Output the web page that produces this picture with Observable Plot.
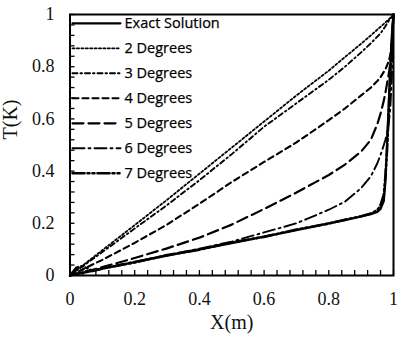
<!DOCTYPE html>
<html>
<head>
<meta charset="utf-8">
<script src="https://cdn.jsdelivr.net/npm/d3@7"></script>
<script src="https://cdn.jsdelivr.net/npm/@observablehq/plot@0.6"></script>
<style>
  html, body { margin: 0; padding: 0; background: #fff; }
</style>
</head>
<body>
<div id="chart"></div>
<script>
// Temperature profiles T(X): exact solution against polynomial approximations
const xs = [0, 0.02, 0.04, 0.07, 0.1, 0.2, 0.3, 0.4, 0.5, 0.6, 0.7, 0.8, 0.85, 0.9, 0.93, 0.95, 0.96, 0.97, 0.975, 0.98, 0.985, 0.99, 0.995, 1];

const tExact = [0, 0.005, 0.01, 0.018, 0.026, 0.051, 0.076, 0.1, 0.124, 0.149, 0.174, 0.2, 0.212, 0.226, 0.235, 0.243, 0.255, 0.285, 0.36, 0.5, 0.65, 0.8, 0.92, 1];
const t2 = [0, 0.02, 0.039, 0.068, 0.097, 0.193, 0.29, 0.39, 0.49, 0.59, 0.69, 0.785, 0.837, 0.888, 0.92, 0.942, 0.953, 0.964, 0.97, 0.975, 0.981, 0.987, 0.993, 1];
const t3 = [0, 0.018, 0.036, 0.063, 0.09, 0.18, 0.27, 0.365, 0.465, 0.57, 0.66, 0.75, 0.8, 0.855, 0.89, 0.915, 0.928, 0.945, 0.955, 0.965, 0.975, 0.983, 0.992, 1];
const t4 = [0, 0.012, 0.024, 0.042, 0.06, 0.125, 0.195, 0.275, 0.358, 0.435, 0.51, 0.595, 0.64, 0.69, 0.72, 0.745, 0.76, 0.78, 0.79, 0.805, 0.82, 0.845, 0.9, 1];
const t5 = [0, 0.006, 0.012, 0.022, 0.032, 0.067, 0.104, 0.145, 0.195, 0.255, 0.318, 0.385, 0.425, 0.475, 0.52, 0.58, 0.62, 0.67, 0.7, 0.735, 0.77, 0.81, 0.88, 1];
const t6 = [0, 0.008, 0.014, 0.02, 0.027, 0.053, 0.078, 0.103, 0.13, 0.165, 0.2, 0.252, 0.283, 0.335, 0.38, 0.43, 0.462, 0.5, 0.52, 0.545, 0.58, 0.64, 0.76, 1];
const t7 = [0, 0.03, 0.036, 0.017, 0.027, 0.05, 0.078, 0.099, 0.127, 0.148, 0.176, 0.199, 0.214, 0.227, 0.238, 0.25, 0.27, 0.31, 0.38, 0.48, 0.62, 0.77, 0.9, 1];

const seriesNames = ["Exact Solution", "2 Degrees", "3 Degrees", "4 Degrees", "5 Degrees", "6 Degrees", "7 Degrees"];
const seriesValues = [tExact, t2, t3, t4, t5, t6, t7];

const xTickValues = [0, 0.2, 0.4, 0.6, 0.8, 1];
const yTickValues = [0, 0.2, 0.4, 0.6, 0.8, 1];
const minorTicks = d3.range(0, 26).map(i => i / 25);

// stroke styling per series (solid, dotted, dash-dot, dashes, long dashes, ...)
const styles = [
  {strokeWidth: 2.2, strokeDasharray: null},
  {strokeWidth: 1.8, strokeDasharray: "2.2,2.2"},
  {strokeWidth: 1.9, strokeDasharray: "5,3,1.5,3"},
  {strokeWidth: 2.1, strokeDasharray: "6,4"},
  {strokeWidth: 2.2, strokeDasharray: "11,5"},
  {strokeWidth: 1.9, strokeDasharray: "12,4,2,4"},
  {strokeWidth: 2.6, strokeDasharray: "12,3,2,3,2,3"}
];

const rows = seriesNames.map((name, i) => xs.map((x, j) => ({series: name, x, t: seriesValues[i][j]})));

const W = 397, H = 342;
const mL = 69.5, mR = 4, mT = 14, mB = 67;
const innerW = W - mL - mR, innerH = H - mT - mB;

const hline = {draw(context, l) { context.moveTo(0, 0); context.lineTo(0, -l); }};

const serif = "'Liberation Serif', 'Times New Roman', serif";
const sans = "'Open Sans', 'DejaVu Sans', sans-serif";

const marks = [];

// data curves
rows.forEach((data, i) => {
  marks.push(Plot.line(data, {
    x: "x", y: "t", stroke: "#000",
    strokeWidth: styles[i].strokeWidth,
    strokeDasharray: styles[i].strokeDasharray,
    strokeLinejoin: "round"
  }));
});

// inward ticks on bottom and left edges
marks.push(Plot.tickX(minorTicks, {x: d => d, insetTop: innerH - 5, stroke: "#000", strokeWidth: 1.3}));
marks.push(Plot.tickY(minorTicks, {y: d => d, insetRight: innerW - 5, stroke: "#000", strokeWidth: 1.3}));

marks.push(Plot.frame({stroke: "#000", strokeWidth: 2}));

// tick labels
marks.push(Plot.axisX(xTickValues, {
  tickSize: 0, tickPadding: 17, tickFormat: d => String(d), label: null,
  fontSize: 18, fontFamily: serif, fill: "#111"
}));
marks.push(Plot.axisY(yTickValues, {
  tickSize: 0, tickPadding: 15.5, tickFormat: d => String(d), label: null,
  fontSize: 18, fontFamily: serif, fill: "#111"
}));

// axis titles
marks.push(Plot.text(["X(m)"], {frameAnchor: "bottom", dy: 53, fontSize: 20, fontFamily: serif, fill: "#111"}));
marks.push(Plot.text(["T(K)"], {frameAnchor: "left", dx: -59.5, dy: -5.5, rotate: -90, fontSize: 20, fontFamily: serif, fill: "#111"}));

// legend inside the top-left corner
seriesNames.forEach((name, i) => {
  const dy = 8.8 + 25 * i;
  marks.push(Plot.vector([name], {
    frameAnchor: "top-left", dx: 2.5, dy,
    rotate: 90, length: 48, anchor: "start", shape: hline,
    stroke: "#000", strokeWidth: styles[i].strokeWidth,
    strokeDasharray: styles[i].strokeDasharray
  }));
  marks.push(Plot.text([name], {
    frameAnchor: "top-left", dx: 54.5, dy,
    text: d => d, textAnchor: "start", lineAnchor: "middle",
    fontSize: 14.5, fontFamily: sans, fill: "#000",
    stroke: "#000", strokeWidth: 0.25
  }));
});

const chart = Plot.plot({
  width: W, height: H,
  marginLeft: mL, marginRight: mR, marginTop: mT, marginBottom: mB,
  x: {domain: [0, 1], label: null},
  y: {domain: [0, 1], label: null},
  style: {background: "#fff", color: "#000", fontFamily: serif},
  marks
});

document.getElementById("chart").appendChild(chart);
</script>
</body>
</html>
